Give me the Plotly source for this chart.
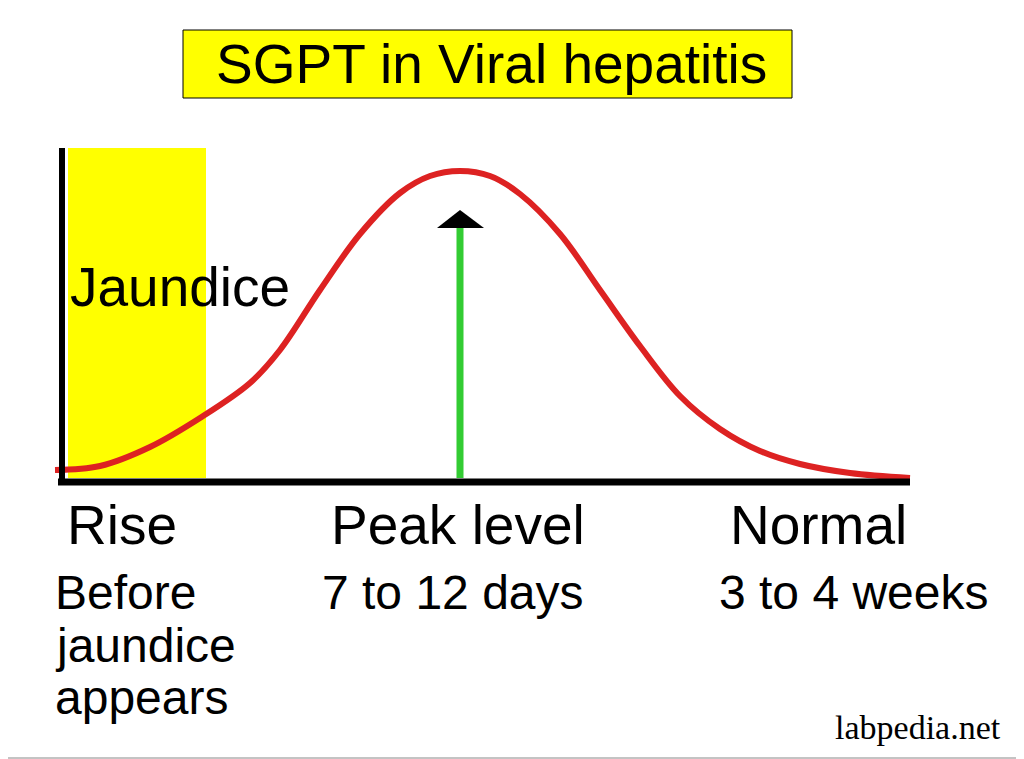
import plotly.graph_objects as go

# SGPT curve (canvas units, y grows downward)
curve_x = [55, 100, 150, 200, 250, 280, 320, 360, 400, 430, 460, 490, 520, 560, 600, 640, 680, 720, 760, 800, 850, 910]
curve_y = [470, 466, 447, 418, 383, 350, 290, 234, 193, 176, 171, 176, 194, 234, 290, 346, 396, 429, 451, 464, 473, 478]

phase_labels = ["Rise", "Peak level", "Normal"]
phase_x = [122, 458, 818]
before_lines = ["Before", "jaundice", "appears"]
before_y = [592, 645, 697]
time_labels = ["7 to 12 days", "3 to 4 weeks"]
time_x = [453, 853]

font = "Liberation Sans, Arial, sans-serif"

fig = go.Figure()

# jaundice band
fig.add_shape(type="rect", x0=68, x1=206, y0=148, y1=478, fillcolor="#ffff00", line_width=0, layer="below")
# title box
fig.add_shape(type="rect", x0=183, x1=792, y0=30, y1=98, fillcolor="#ffff00", line=dict(color="black", width=1))
# picture border
fig.add_shape(type="rect", x0=1, x1=1023, y0=1, y1=758, line=dict(color="#888", width=1))

# axes
fig.add_shape(type="line", x0=62, x1=62, y0=148, y1=484, line=dict(color="black", width=6))
fig.add_shape(type="line", x0=58, x1=910, y0=482, y1=482, line=dict(color="black", width=7))

# green peak arrow
fig.add_shape(type="line", x0=460, x1=460, y0=226, y1=478, line=dict(color="#33cc33", width=7))
fig.add_shape(type="path", path="M 437 228 L 460 210 L 484 228 Z", fillcolor="black", line_width=0)

fig.add_trace(go.Scatter(x=curve_x, y=curve_y, mode="lines", line=dict(color="#dd2222", width=6, shape="spline"),
                         hoverinfo="skip"))

fig.add_annotation(x=491, y=64, text="SGPT in Viral hepatitis", showarrow=False, font=dict(family=font, size=55, color="black"))
fig.add_annotation(x=68, y=287, text="Jaundice", showarrow=False, xanchor="left", font=dict(family=font, size=55, color="black"))

for lbl, px in zip(phase_labels, phase_x):
    fig.add_annotation(x=px, y=525, text=lbl, showarrow=False, font=dict(family=font, size=55, color="black"))

for lbl, py in zip(before_lines, before_y):
    fig.add_annotation(x=53, y=py, text=lbl, showarrow=False, xanchor="left", font=dict(family=font, size=48, color="black"))
for lbl, px in zip(time_labels, time_x):
    fig.add_annotation(x=px, y=592, text=lbl, showarrow=False, font=dict(family=font, size=48, color="black"))

fig.add_annotation(x=918, y=727, text="labpedia.net", showarrow=False,
                   font=dict(family="Liberation Serif, Times New Roman, serif", size=34, color="black"))

# ranges shifted by 8 to offset the page's body margin
fig.update_layout(
    width=1024, height=759, margin=dict(l=0, r=0, t=0, b=0),
    plot_bgcolor="white", paper_bgcolor="white", showlegend=False,
    xaxis=dict(range=[8, 1032], visible=False, fixedrange=True),
    yaxis=dict(range=[767, 8], visible=False, fixedrange=True),
)

fig.write_html("out.html")
